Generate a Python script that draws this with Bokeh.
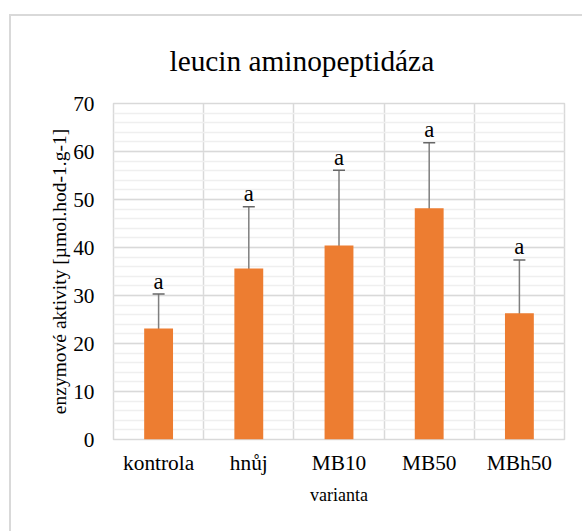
import numpy as np
from bokeh.plotting import figure
from bokeh.models import (ColumnDataSource, Range1d, FixedTicker, SingleIntervalTicker,
                          Whisker, TeeHead)
from bokeh.core.properties import value
from bokeh.embed import file_html
from bokeh.resources import INLINE

categories = ["kontrola", "hnůj", "MB10", "MB50", "MBh50"]
means = [23.1, 35.6, 40.4, 48.2, 26.3]
errors = [7.2, 12.9, 15.7, 13.6, 11.1]
letters = ["a", "a", "a", "a", "a"]
y_ticks = [0, 10, 20, 30, 40, 50, 60, 70]

FONT = "Liberation Serif"

n = len(categories)
xs = np.arange(n) + 0.5
src = ColumnDataSource(dict(
    x=xs,
    top=means,
    upper=[m + e for m, e in zip(means, errors)],
    lower=[m - e for m, e in zip(means, errors)],
    sig=letters,
))

p = figure(width=573, height=517, output_backend="svg", toolbar_location=None,
           x_range=Range1d(0, n), y_range=Range1d(y_ticks[0], y_ticks[-1]),
           min_border_left=102, min_border_right=20, min_border_top=86,
           min_border_bottom=94)
p.margin = (14, 0, 0, 9)
p.styles = {"border-left": "2px solid #d9d9d9", "border-top": "2px solid #d9d9d9"}

p.title.text = "leucin aminopeptidáza"
p.title.text_font = FONT
p.title.text_font_size = "22pt"
p.title.text_font_style = "normal"
p.title.text_color = "#000000"
p.title.align = "left"
p.title.offset = 56
p.title.standoff = 53

p.outline_line_color = "#d9d9d9"
p.outline_line_width = 1.5

p.vbar(x="x", top="top", width=0.32, bottom=0, source=src,
       fill_color="#ed7d31", line_color=None)

w = Whisker(source=src, base="x", upper="upper", lower="lower",
            line_color="#7f7f7f", line_width=1.5,
            upper_head=TeeHead(size=12, line_color="#666666", line_width=1.5),
            lower_head=TeeHead(size=12, line_color="#666666", line_width=1.5))
p.add_layout(w)

p.text(x="x", y="upper", text="sig", source=src, text_align="center",
       text_baseline="alphabetic", y_offset=-13, text_font=value(FONT),
       text_font_size="17pt", text_color="#000000")

# axes
p.xaxis.ticker = FixedTicker(ticks=list(xs))
p.xaxis.major_label_overrides = {float(x): c for x, c in zip(xs, categories)}
p.yaxis.ticker = SingleIntervalTicker(interval=10, num_minor_ticks=5)
for ax in (p.xaxis, p.yaxis):
    ax.axis_line_color = None
    ax.major_tick_line_color = None
    ax.minor_tick_line_color = None
    ax.major_label_text_color = "#000000"
    ax.major_label_text_font = FONT
    ax.major_label_text_font_size = "16pt"
    ax.axis_label_text_font = FONT
    ax.axis_label_text_font_style = "normal"
    ax.axis_label_text_color = "#000000"
p.xaxis.axis_label = "varianta"
p.xaxis.axis_label_text_font_size = "18px"
p.xaxis.major_label_standoff = 5
p.xaxis.axis_label_standoff = 7
p.yaxis.axis_label = "enzymové aktivity [µmol.hod-1.g-1]"
p.yaxis.axis_label_text_font_size = "19.5px"
p.yaxis.major_label_standoff = 13
p.yaxis.axis_label_standoff = 0

# grids
p.ygrid.ticker = SingleIntervalTicker(interval=10, num_minor_ticks=5)
p.ygrid.grid_line_color = "#d9d9d9"
p.ygrid.grid_line_width = 1.5
p.ygrid.minor_grid_line_color = "#efefef"
p.ygrid.minor_grid_line_width = 1.5
p.xgrid.ticker = FixedTicker(ticks=list(np.arange(1, n)))
p.xgrid.grid_line_color = "#d9d9d9"
p.xgrid.grid_line_width = 1.5

open("out.html", "w").write(file_html(p, INLINE))
